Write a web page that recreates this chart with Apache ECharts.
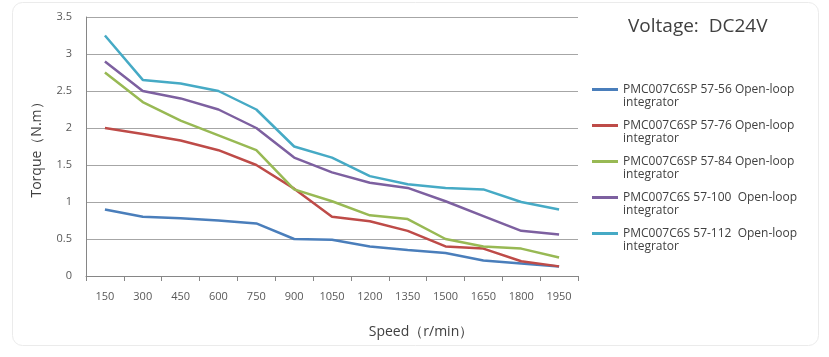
<!DOCTYPE html>
<html><head><meta charset="utf-8">
<script src="https://cdn.jsdelivr.net/npm/echarts@6/dist/echarts.min.js"></script>
<style>html,body{margin:0;padding:0;background:#fff}#c{width:829px;height:357px}</style>
</head><body><div id="c"></div>
<script>
const speeds = ['150','300','450','600','750','900','1050','1200','1350','1500','1650','1800','1950'];
const names = [
  'PMC007C6SP 57-56 Open-loop integrator',
  'PMC007C6SP 57-76 Open-loop integrator',
  'PMC007C6SP 57-84 Open-loop integrator',
  'PMC007C6S 57-100  Open-loop integrator',
  'PMC007C6S 57-112  Open-loop integrator'
];
const s5756  = [0.9, 0.8, 0.78, 0.75, 0.71, 0.5, 0.49, 0.4, 0.35, 0.31, 0.21, 0.17, 0.13];
const s5776  = [2.0, 1.92, 1.83, 1.7, 1.5, 1.18, 0.8, 0.74, 0.61, 0.4, 0.37, 0.2, 0.13];
const s5784  = [2.75, 2.35, 2.1, 1.9, 1.7, 1.17, 1.01, 0.82, 0.77, 0.5, 0.4, 0.37, 0.25];
const s57100 = [2.9, 2.5, 2.4, 2.25, 2.0, 1.6, 1.4, 1.26, 1.19, 1.01, 0.81, 0.61, 0.56];
const s57112 = [3.25, 2.65, 2.6, 2.5, 2.25, 1.75, 1.6, 1.35, 1.24, 1.19, 1.17, 1.0, 0.9];
const yTicks = [0, 0.5, 1, 1.5, 2, 2.5, 3, 3.5];

const colors = ['#4a7ebb','#be4b48','#98b954','#7d60a0','#46aac5'];
const allData = [s5756, s5776, s5784, s57100, s57112];
const font = 'Open Sans';

const chart = echarts.init(document.getElementById('c'), null, {renderer:'canvas'});
chart.setOption({
  animation: false,
  backgroundColor: '#fff',
  color: colors,
  textStyle: {fontFamily: font},
  graphic: [{
    type: 'rect', left: 12, top: 2, z: -10,
    shape: {width: 806, height: 343, r: 10},
    style: {fill: '#fff', stroke: '#ebebeb', lineWidth: 1}
  }],
  title: {
    text: 'Voltage:  DC24V', left: 623, top: 12,
    textStyle: {fontFamily: font, fontSize: 19, fontWeight: 'normal', color: '#404040'}
  },
  legend: {
    orient: 'vertical', left: 587, top: 65,
    itemWidth: 26, itemHeight: 3, itemGap: -3,
    icon: 'rect',
    data: names,
    formatter: n => '\n' + n.replace(' integrator', '\nintegrator'),
    textStyle: {fontFamily: font, fontSize: 12, color: '#404040', lineHeight: 13}
  },
  grid: {left: 86, top: 17, width: 492, height: 259, containLabel: false},
  xAxis: {
    type: 'category', data: speeds, boundaryGap: true,
    name: 'Speed（r/min）', nameLocation: 'middle', nameGap: 49,
    nameTextStyle: {fontFamily: font, fontSize: 14, color: '#404040', padding: [0,0,0,178]},
    axisLine: {lineStyle: {color: '#868686'}},
    axisTick: {show: true, length: 5, lineStyle: {color: '#868686'}},
    axisLabel: {fontFamily: font, fontSize: 11, color: '#595959', margin: 15}
  },
  yAxis: {
    type: 'value', min: 0, max: 3.5, interval: 0.5,
    name: 'Torque（N.m）', nameLocation: 'middle', nameGap: 42,
    nameTextStyle: {fontFamily: font, fontSize: 14, color: '#404040'},
    axisLine: {show: true, lineStyle: {color: '#868686'}},
    axisTick: {show: false},
    axisLabel: {fontFamily: font, fontSize: 11, color: '#595959', margin: 14,
      formatter: v => yTicks.includes(v) ? String(v) : ''},
    splitLine: {lineStyle: {color: '#a6a6a6', width: 1}}
  },
  series: allData.map((d, i) => ({
    name: names[i], type: 'line', data: d, showSymbol: false, symbol: 'none',
    lineStyle: {width: 2.5, color: colors[i]}
  }))
});
</script></body></html>
